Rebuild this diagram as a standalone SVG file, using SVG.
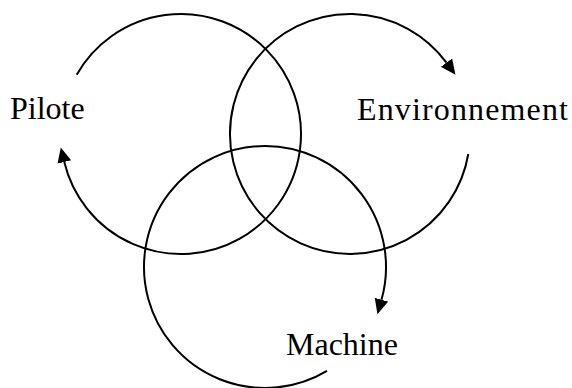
<svg xmlns="http://www.w3.org/2000/svg" width="572" height="388" viewBox="0 0 572 388">
<style>
.lbl{font-family:"Liberation Serif","Times New Roman",serif;font-size:32px;fill:#000}
.arc{fill:none;stroke:#000;stroke-width:2;marker-end:url(#ah)}
</style>
<defs>
<marker id="ah" markerUnits="userSpaceOnUse" markerWidth="16" markerHeight="15" refX="0" refY="7" orient="auto">
<path d="M0,0 L15,7 L0,14 z" fill="#000"/>
</marker>
</defs>
<rect width="572" height="388" fill="#fff"/>
<g id="connectors">
<path class="arc" d="M76.7,74.7 A120,120 0 1 1 64.3,162"/>
<path class="arc" d="M468.3,154 A120,120 0 1 1 446.5,62.6"/>
<path class="arc" d="M327,370.9 A121,121 0 1 1 381.5,299.7"/>
</g>
<g id="pilote"><text class="lbl" x="10" y="119">Pilote</text></g>
<g id="environnement"><text class="lbl" x="357" y="120" textLength="211" lengthAdjust="spacing">Environnement</text></g>
<g id="machine"><text class="lbl" x="286" y="355">Machine</text></g>
</svg>
